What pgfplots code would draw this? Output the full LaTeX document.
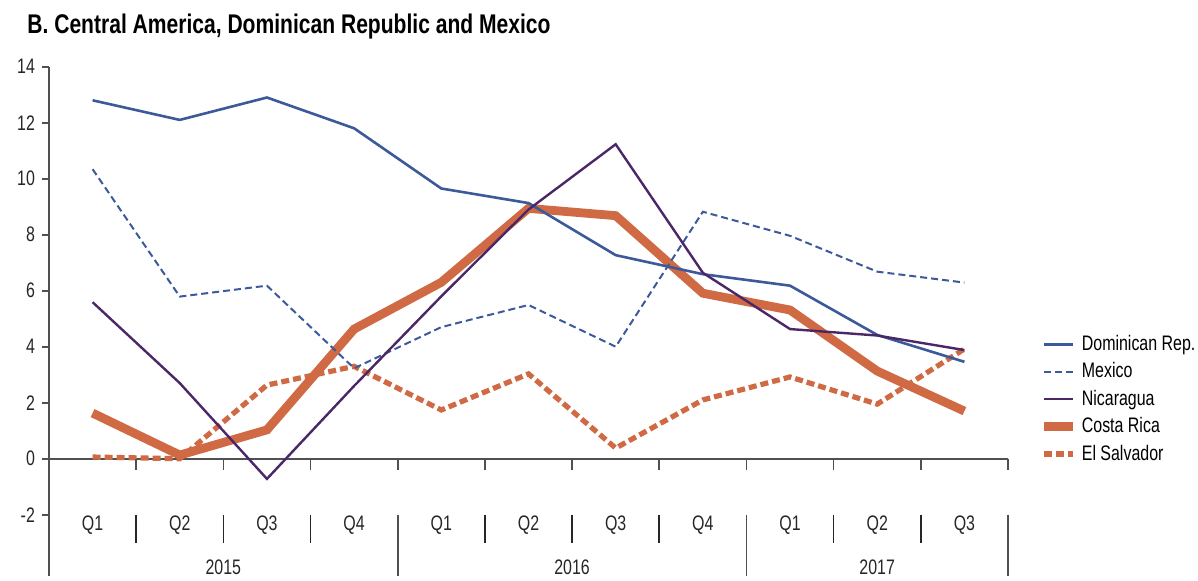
\documentclass[border=0pt]{standalone}
\usepackage{pgfplots}
\pgfplotsset{compat=1.18}
\usepackage{fontspec}
\setmainfont{Liberation Sans}[FakeStretch=0.76]
\newfontfamily\titlefont{Liberation Sans}[FakeStretch=0.78]
\definecolor{domblue}{RGB}{60,90,154}
\definecolor{nicpurple}{RGB}{75,39,104}
\definecolor{crorange}{RGB}{207,106,68}
\definecolor{axgray}{RGB}{80,80,80}
\begin{document}
\begin{tikzpicture}
\useasboundingbox (-24.5pt,-33pt) rectangle (574.5pt,257.35pt);
\begin{axis}[
  at={(0,0)}, anchor=south west,
  scale only axis, width=479.5pt, height=224pt,
  xmin=-0.5, xmax=10.5, ymin=-2, ymax=14,
  axis y line*=left, axis x line*=middle,
  axis line style={axgray, line width=0.8pt},
  xtick=\empty,
  ytick={-2,0,2,4,6,8,10,12,14},
  yticklabels={-2,0,2,4,6,8,10,12,14},
  ytick align=outside, major tick length=3.5pt,
  y tick style={axgray, line width=0.8pt},
  y tick label style={font=\fontsize{10.5}{12}\selectfont, text=black!85},
  clip=false,
  legend style={at={(rel axis cs:1.033,0.258)}, anchor=west, draw=none, fill=none,
    font=\fontsize{10.5}{12}\selectfont, row sep=0.6pt, inner sep=0pt},
  legend cell align=left,
  legend image code/.code={\draw[#1] (0pt,0pt) -- (14.5pt,0pt);},
]
\addlegendimage{domblue, line width=1.3pt}
\addlegendentry{Dominican Rep.}
\addlegendimage{domblue, line width=1pt, dash pattern=on 3.5pt off 2pt}
\addlegendentry{Mexico}
\addlegendimage{nicpurple, line width=1.2pt}
\addlegendentry{Nicaragua}
\addlegendimage{crorange, line width=4.4pt}
\addlegendentry{Costa Rica}
\addlegendimage{crorange, line width=2.6pt, dash pattern=on 4pt off 2pt}
\addlegendentry{El Salvador}

% Costa Rica
\addplot[crorange, line width=4.4pt, forget plot] coordinates {
(0,1.63) (1,0.13) (2,1.03) (3,4.63) (4,6.3) (5,8.94) (6,8.68) (7,5.91) (8,5.31) (9,3.13) (10,1.7)};
% El Salvador
\addplot[crorange, line width=2.6pt, dash pattern=on 4pt off 2pt, forget plot] coordinates {
(0,0.06) (1,0.0) (2,2.63) (3,3.3) (4,1.74) (5,3.03) (6,0.38) (7,2.1) (8,2.92) (9,1.95) (10,3.92)};
% Mexico
\addplot[domblue, line width=1pt, dash pattern=on 3.5pt off 2pt, forget plot] coordinates {
(0,10.34) (1,5.79) (2,6.18) (3,3.23) (4,4.7) (5,5.49) (6,4.0) (7,8.82) (8,7.96) (9,6.68) (10,6.29)};
% Dominican Rep.
\addplot[domblue, line width=1.3pt, forget plot] coordinates {
(0,12.8) (1,12.1) (2,12.9) (3,11.8) (4,9.65) (5,9.13) (6,7.27) (7,6.59) (8,6.18) (9,4.42) (10,3.46)};
% Nicaragua
\addplot[nicpurple, line width=1.2pt, forget plot] coordinates {
(0,5.59) (1,2.7) (2,-0.72) (3,2.6) (4,5.8) (5,8.9) (6,11.23) (7,6.64) (8,4.63) (9,4.4) (10,3.88)};

% category axis decorations
\pgfplotsinvokeforeach{0.5,1.5,2.5,3.5,4.5,5.5,6.5,7.5,8.5,9.5,10.5}{
  \draw[axgray, line width=0.8pt] (axis cs:#1,0) -- (axis cs:#1,-0.4);
}
\pgfplotsinvokeforeach{0.5,1.5,2.5,4.5,5.5,6.5,8.5,9.5}{
  \draw[black!85, line width=0.8pt] (axis cs:#1,-2) -- (axis cs:#1,-3.0);
}
\pgfplotsinvokeforeach{-0.5,3.5,7.5,10.5}{
  \draw[axgray, line width=0.8pt] (axis cs:#1,-2) -- (axis cs:#1,-4.2);
}
\node[font=\fontsize{10.5}{12}\selectfont, text=black!85] at (axis cs:0,-2.37) {Q1};
\node[font=\fontsize{10.5}{12}\selectfont, text=black!85] at (axis cs:1,-2.37) {Q2};
\node[font=\fontsize{10.5}{12}\selectfont, text=black!85] at (axis cs:2,-2.37) {Q3};
\node[font=\fontsize{10.5}{12}\selectfont, text=black!85] at (axis cs:3,-2.37) {Q4};
\node[font=\fontsize{10.5}{12}\selectfont, text=black!85] at (axis cs:4,-2.37) {Q1};
\node[font=\fontsize{10.5}{12}\selectfont, text=black!85] at (axis cs:5,-2.37) {Q2};
\node[font=\fontsize{10.5}{12}\selectfont, text=black!85] at (axis cs:6,-2.37) {Q3};
\node[font=\fontsize{10.5}{12}\selectfont, text=black!85] at (axis cs:7,-2.37) {Q4};
\node[font=\fontsize{10.5}{12}\selectfont, text=black!85] at (axis cs:8,-2.37) {Q1};
\node[font=\fontsize{10.5}{12}\selectfont, text=black!85] at (axis cs:9,-2.37) {Q2};
\node[font=\fontsize{10.5}{12}\selectfont, text=black!85] at (axis cs:10,-2.37) {Q3};
\node[font=\fontsize{10.5}{12}\selectfont, text=black!85] at (axis cs:1.5,-3.88) {2015};
\node[font=\fontsize{10.5}{12}\selectfont, text=black!85] at (axis cs:5.5,-3.88) {2016};
\node[font=\fontsize{10.5}{12}\selectfont, text=black!85] at (axis cs:9,-3.88) {2017};
\node[anchor=base west, inner sep=0pt, font=\titlefont\fontsize{13.5}{16}\selectfont\bfseries] at (axis cs:-0.752,15.17) {B. Central America, Dominican Republic and Mexico};
\end{axis}
\end{tikzpicture}
\end{document}
